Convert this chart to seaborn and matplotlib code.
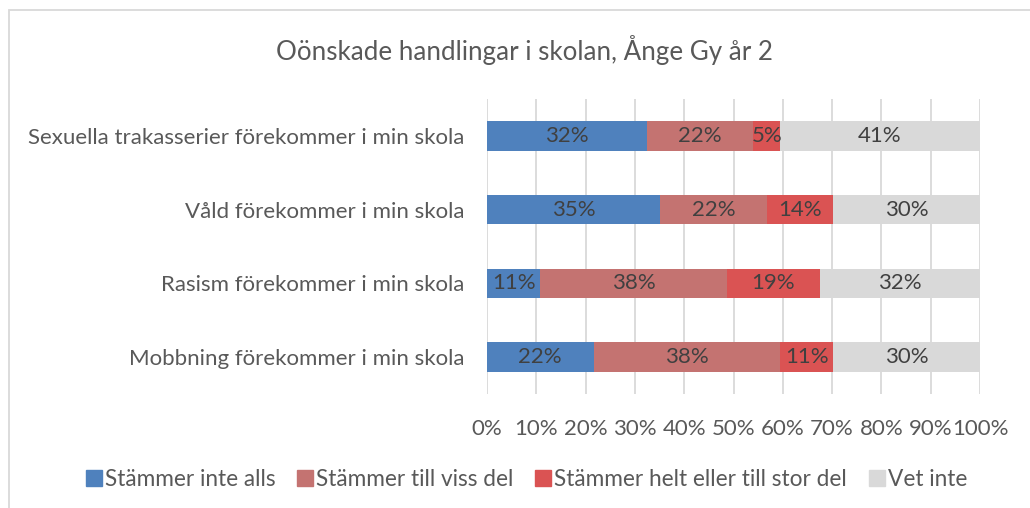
import matplotlib
matplotlib.use("Agg")
import matplotlib.pyplot as plt
from matplotlib.patches import Rectangle
from matplotlib.lines import Line2D
import seaborn as sns
import pandas as pd
import numpy as np

# ---- data ----
categories = [
    "Sexuella trakasserier förekommer i min skola",
    "Våld förekommer i min skola",
    "Rasism förekommer i min skola",
    "Mobbning förekommer i min skola",
]
series_names = [
    "Stämmer inte alls",
    "Stämmer till viss del",
    "Stämmer helt eller till stor del",
    "Vet inte",
]
stammer_inte_alls = [32.43, 35.14, 10.81, 21.62]
stammer_till_viss_del = [21.62, 21.62, 37.84, 37.84]
stammer_helt = [5.41, 13.51, 18.92, 10.81]
vet_inte = [40.54, 29.73, 32.43, 29.73]
x_ticks = [0, 10, 20, 30, 40, 50, 60, 70, 80, 90, 100]
title = "Oönskade handlingar i skolan, Ånge Gy år 2"

colors = ["#4F81BD", "#C47371", "#DA5353", "#D9D9D9"]

sns.set_theme(style="white")
plt.rcParams["font.family"] = ["Lato", "DejaVu Sans"]

series = [stammer_inte_alls, stammer_till_viss_del, stammer_helt, vet_inte]
df = pd.DataFrame({"kategori": categories})
for name, vals in zip(series_names, series):
    df[name] = vals
cum = df[series_names].cumsum(axis=1)

W, H = 1030, 508
fig = plt.figure(figsize=(W / 100, H / 100), dpi=100)
ax = fig.add_axes([487 / W, 1 - 394 / H, (980 - 487) / W, (394 - 99) / H])

# draw cumulative bars from largest to smallest (stacked effect)
for name, color in reversed(list(zip(series_names, colors))):
    sns.barplot(data=pd.DataFrame({"kategori": categories, "v": cum[name]}),
                x="v", y="kategori", orient="h", color=color, width=0.4,
                saturation=1, ax=ax, zorder=3, linewidth=0)

# labels
for i in range(len(categories)):
    for j, name in enumerate(series_names):
        v = df.loc[i, name]
        center = cum.loc[i, name] - v / 2
        ax.text(center, i, f"{v:.0f}%", ha="center", va="center",
                color="#404040", fontsize=16, zorder=5)

ax.set_xlim(0, 100)
ax.set_ylim(len(categories) - 0.5, -0.5)
ax.set_xticks(x_ticks)
ax.set_xticklabels([f"{t}%" for t in x_ticks])
ax.xaxis.grid(True, color="#D9D9D9", linewidth=1.3, zorder=0)
ax.set_axisbelow(True)
ax.set_xlabel("")
ax.set_ylabel("")
for s in ax.spines.values():
    s.set_visible(False)
ax.tick_params(axis="x", length=0, pad=18, labelsize=16, colors="#595959")
ax.tick_params(axis="y", length=0, pad=16, labelsize=16, colors="#595959")

fig.text(524 / W, 1 - 50 / H, title, ha="center", va="center",
         fontsize=18.7, color="#595959")

handles = [Line2D([0], [0], marker="s", linestyle="none", markersize=12,
                  markerfacecolor=c, markeredgecolor=c) for c in colors]
fig.legend(handles, series_names, loc="center", ncol=4,
           bbox_to_anchor=(526 / W, 1 - 479 / H), frameon=False,
           fontsize=16.3, labelcolor="#595959", handletextpad=0.1,
           columnspacing=0.9, handlelength=0.8)

# chart border (top and left visible)
fig.patches.append(Rectangle((9 / W, -0.1), 1.2, 1.1 - 10 / H + 0.0,
                             transform=fig.transFigure, fill=False,
                             edgecolor="#D9D9D9", linewidth=1.3))

fig.savefig("out.png", dpi=100)
